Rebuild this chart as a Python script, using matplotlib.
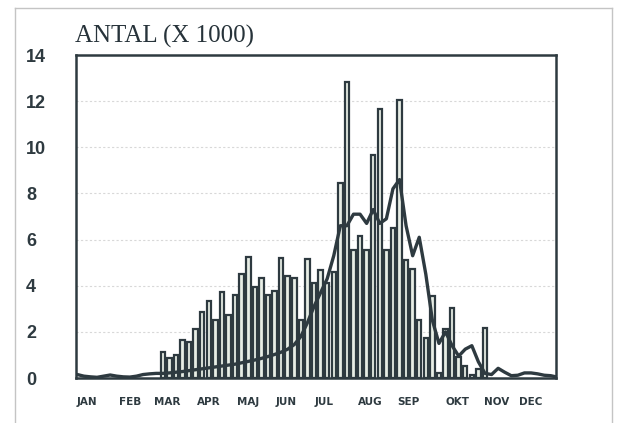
import matplotlib
matplotlib.use("Agg")
import matplotlib.pyplot as plt
from matplotlib.lines import Line2D

# 5-day periods, day-of-year of each bar centre
bar_days = [66 + 5 * i for i in range(50)]
bar_values = [
    1.14, 0.88, 1.00, 1.65, 1.56, 2.12, 2.87, 3.35, 2.51, 3.73,
    2.73, 3.60, 4.52, 5.23, 3.96, 4.35, 3.58, 3.78, 5.20, 4.43,
    4.32, 2.51, 5.14, 4.10, 4.68, 4.10, 4.61, 8.44, 12.85, 5.55,
    6.15, 5.55, 9.67, 11.65, 5.55, 6.49, 12.05, 5.11, 4.71, 2.51,
    1.72, 3.55, 0.20, 2.11, 3.02, 0.92, 0.52, 0.15, 0.40, 2.15,
]

# smoothed curve, sampled every 5 days
line_days = list(range(1, 366, 5)) + [365]
line_values = [
    0.15, 0.08, 0.05, 0.03, 0.08, 0.13, 0.08, 0.05, 0.04, 0.08,
    0.15, 0.18, 0.20, 0.20, 0.22, 0.25, 0.28, 0.32, 0.36, 0.40,
    0.44, 0.48, 0.52, 0.56, 0.60, 0.66, 0.72, 0.78, 0.85, 0.93,
    1.02, 1.12, 1.25, 1.45, 1.80, 2.40, 3.10, 3.70, 4.30, 5.30,
    6.60, 6.60, 7.10, 7.10, 6.70, 7.30, 6.70, 6.90, 8.20, 8.60,
    6.60, 5.30, 6.10, 4.50, 2.50, 1.50, 2.00, 1.40, 0.95, 1.25,
    1.40, 0.70, 0.20, 0.15, 0.42, 0.25, 0.10, 0.12, 0.22, 0.22,
    0.18, 0.12, 0.10, 0.05,
]

month_pos = [8.4, 41, 69, 101, 131, 160, 189, 224, 253, 290, 320, 346]
month_labels = ["JAN", "FEB", "MAR", "APR", "MAJ", "JUN",
                "JUL", "AUG", "SEP", "OKT", "NOV", "DEC"]
y_ticks = [0, 2, 4, 6, 8, 10, 12, 14]

ink = "#2e3a40"

fig = plt.figure(figsize=(6.24, 4.23), dpi=100)
ax = fig.add_axes([76 / 624, 45 / 423, 480 / 624, 323 / 423])

for y in y_ticks[1:-1]:
    ax.axhline(y, color="#d8d8d8", lw=0.8, ls=(0, (2, 2)), zorder=0)

ax.bar(bar_days, bar_values, width=3.4, facecolor="#e8eee6",
       edgecolor=ink, linewidth=1.6, zorder=2)
ax.plot(line_days, line_values, color=ink, lw=2.4,
        solid_joinstyle="round", solid_capstyle="round", zorder=3)

ax.set_xlim(0, 365)
ax.set_ylim(0, 14)
ax.set_xticks(month_pos)
ax.set_xticklabels(month_labels, fontsize=7.5, fontweight="bold",
                   family="DejaVu Sans", color=ink)
ax.set_yticks(y_ticks)
ax.set_yticklabels([str(v) for v in y_ticks], fontsize=13,
                   fontweight="bold", family="Liberation Sans", color=ink)
for lab in ax.get_yticklabels():
    lab.set_horizontalalignment("left")
ax.tick_params(axis="y", length=0, pad=36)
ax.tick_params(axis="x", length=0, pad=14)

for side in ax.spines.values():
    side.set_color(ink)
    side.set_linewidth(1.8)

fig.text(75 / 624, 1 - 43 / 423, "ANTAL (X 1000)", family="Liberation Serif",
         fontsize=18, color="#27333a", va="baseline", ha="left")

# light frame round the whole figure
frame = dict(color="#c4c4c4", lw=1.0, transform=fig.transFigure)
fig.add_artist(Line2D([15 / 624, 15 / 624], [0, 1 - 8 / 423], **frame))
fig.add_artist(Line2D([15 / 624, 612 / 624], [1 - 8 / 423, 1 - 8 / 423], **frame))
fig.add_artist(Line2D([612 / 624, 612 / 624], [0, 1 - 8 / 423], **frame))

fig.savefig("out.png", dpi=100)
